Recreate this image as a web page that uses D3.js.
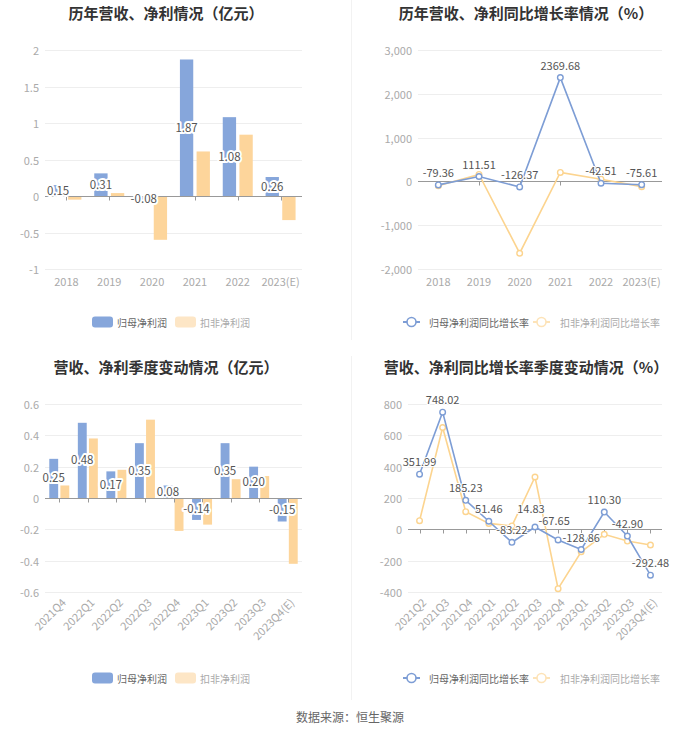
<!DOCTYPE html>
<html><head><meta charset="utf-8">
<script src="https://cdn.jsdelivr.net/npm/d3@7/dist/d3.min.js"></script>
<style>
body{margin:0;background:#fff;}
svg{display:block;font-family:"Noto Sans CJK SC","Noto Sans",sans-serif;}
</style></head><body>
<svg id="c" width="700" height="733"></svg>
<script>
// ---------- data ----------
const years = ["2018","2019","2020","2021","2022","2023(E)"];
const yearProfit = [0.15, 0.31, -0.08, 1.87, 1.08, 0.26];
const yearDeducted = [-0.05, 0.04, -0.60, 0.61, 0.84, -0.33];
const yearProfitGrowth = [-79.36, 111.51, -126.37, 2369.68, -42.51, -75.61];
const yearDeductedGrowth = [-100, 160, -1640, 205, 50, -120];

const quarters = ["2021Q4","2022Q1","2022Q2","2022Q3","2022Q4","2023Q1","2023Q2","2023Q3","2023Q4(E)"];
const qProfit = [0.25, 0.48, 0.17, 0.35, 0.08, -0.14, 0.35, 0.20, -0.15];
const qDeducted = [0.08, 0.38, 0.18, 0.50, -0.21, -0.17, 0.12, 0.14, -0.42];

const gQuarters = ["2021Q2","2021Q3","2021Q4","2022Q1","2022Q2","2022Q3","2022Q4","2023Q1","2023Q2","2023Q3","2023Q4(E)"];
const qProfitGrowth = [351.99, 748.02, 185.23, 51.46, -83.22, 14.83, -67.65, -128.86, 110.30, -42.90, -292.48];
const qDeductedGrowth = [55, 650, 113, 38, 22, 334, -379, -143, -32, -75, -100];

const ticksTL = [-1, -0.5, 0, 0.5, 1, 1.5, 2];
const ticksTR = [-2000, -1000, 0, 1000, 2000, 3000];
const ticksBL = [-0.6, -0.4, -0.2, 0, 0.2, 0.4, 0.6];
const ticksBR = [-400, -200, 0, 200, 400, 600, 800];

const seriesBar = ["归母净利润","扣非净利润"];
const seriesLine = ["归母净利润同比增长率","扣非净利润同比增长率"];

// ---------- style ----------
const BLUE = "#86a6db", YEL = "#fdd59b";
const LBLUE = "#7d9dd5", LYEL = "#fcd48f";
const loc = d3.formatLocale({decimal:".", thousands:",", grouping:[3], currency:["",""], minus:"-"});
const f2 = loc.format(".2f"), fPlain = loc.format(""), fComma = loc.format(",");
const svg = d3.select("#c");

// dividers
svg.append("line").attr("x1",351.5).attr("x2",351.5).attr("y1",0).attr("y2",340).attr("stroke","#f2f2f2");
svg.append("line").attr("x1",351.5).attr("x2",351.5).attr("y1",356).attr("y2",700).attr("stroke","#f2f2f2");

function title(txt, cx, cy){
  svg.append("text").attr("x",cx).attr("y",cy).attr("text-anchor","middle")
    .attr("dominant-baseline","central").attr("font-size",15).attr("font-weight","bold")
    .attr("fill","#333").text(txt);
}
title("历年营收、净利情况（亿元）",166,12);
title("历年营收、净利同比增长率情况（%）",526,12);
title("营收、净利季度变动情况（亿元）",166,366);
title("营收、净利同比增长率季度变动情况（%）",526,366);

function yAxis(g, y, x0, x1, ticks, fmt){
  ticks.forEach(t=>{
    g.append("line").attr("x1",x0).attr("x2",x1).attr("y1",Math.round(y(t))+0.5).attr("y2",Math.round(y(t))+0.5)
      .attr("stroke", "#eeeeee");
    g.append("text").attr("x",x0-6).attr("y",y(t)).attr("text-anchor","end")
      .attr("dominant-baseline","central").attr("font-size",11).attr("fill","#aaa").text(fmt(t));
  });
}
function zeroAxis(g, y, x0, x1, centers){
  const yy = Math.round(y(0))+0.5;
  g.append("line").attr("x1",x0).attr("x2",x1).attr("y1",yy).attr("y2",yy).attr("stroke","#999");
  centers.forEach(c=>g.append("line").attr("x1",Math.round(c)+0.5).attr("x2",Math.round(c)+0.5)
     .attr("y1",yy).attr("y2",yy+4).attr("stroke","#999"));
}
function xLabels(g, cats, xc, ybase, rotate){
  cats.forEach(c=>{
    if(!rotate){
      g.append("text").attr("x",xc(c)).attr("y",ybase).attr("text-anchor","middle")
        .attr("dominant-baseline","central").attr("font-size",11).attr("fill","#aaa").text(c);
    } else {
      g.append("text").attr("transform",`translate(${xc(c)+4},${ybase}) rotate(-45)`)
        .attr("text-anchor","end").attr("dominant-baseline","central")
        .attr("font-size",11).attr("fill","#aaa").text(c);
    }
  });
}
function barLegend(ly){
  const g = svg.append("g");
  g.append("rect").attr("x",92).attr("y",ly-5.5).attr("width",21).attr("height",11).attr("rx",3).attr("fill",BLUE);
  g.append("text").attr("x",117).attr("y",ly).attr("dominant-baseline","central").attr("font-size",10).attr("fill","#666").text(seriesBar[0]);
  g.append("rect").attr("x",175).attr("y",ly-5.5).attr("width",21).attr("height",11).attr("rx",3).attr("fill","#fde6c6");
  g.append("text").attr("x",200).attr("y",ly).attr("dominant-baseline","central").attr("font-size",10).attr("fill","#aaa").text(seriesBar[1]);
}
function lineLegend(ly){
  const g = svg.append("g");
  const items=[{x:403,c:LBLUE,tx:429,tc:"#666"},{x:533,c:"#fde3b8",tx:560,tc:"#aaa"}];
  items.forEach((it,i)=>{
    g.append("line").attr("x1",it.x).attr("x2",it.x+17).attr("y1",ly).attr("y2",ly).attr("stroke",it.c).attr("stroke-width",2);
    g.append("circle").attr("cx",it.x+8.5).attr("cy",ly).attr("r",4.5).attr("fill","#fff").attr("stroke",it.c).attr("stroke-width",1.6);
    g.append("text").attr("x",it.tx).attr("y",ly).attr("dominant-baseline","central").attr("font-size",10).attr("fill",it.tc).text(seriesLine[i]);
  });
}

function barChart(cats, a, b, ticks, x0, x1, yTop, yBot, labelY, rotate, legendY){
  const g = svg.append("g");
  const x = d3.scaleBand().domain(cats).range([x0,x1]);
  const y = d3.scaleLinear().domain([ticks[0], ticks[ticks.length-1]]).range([yBot,yTop]);
  const bw = x.bandwidth();
  const x1s = d3.scaleBand().domain([0,1]).range([bw*0.15, bw*0.85]).paddingInner(0.2);
  yAxis(g, y, x0, x1, ticks, fPlain);
  const data = cats.map((c,i)=>({c, v:[a[i], b[i]]}));
  [0,1].forEach(s=>{
    g.selectAll(null).data(data).enter().append("rect")
      .attr("x",d=>x(d.c)+x1s(s)).attr("width",x1s.bandwidth())
      .attr("y",d=>y(Math.max(0,d.v[s]))).attr("height",d=>Math.abs(y(d.v[s])-y(0)))
      .attr("fill", s===0?BLUE:YEL);
  });
  zeroAxis(g, y, x0, x1, cats.map(c=>x(c)+bw/2));
  xLabels(g, cats, c=>x(c)+bw/2, labelY, rotate);
  // labels
  g.selectAll(null).data(data).enter().append("text")
    .attr("x",d=>x(d.c)+x1s(0)+x1s.bandwidth()/2)
    .attr("y",d=>(y(d.v[0])+y(0))/2 - 1)
    .attr("text-anchor","middle").attr("dominant-baseline","central")
    .attr("font-size",11.5).attr("fill","#555")
    .attr("stroke","#fff").attr("stroke-width",4).attr("stroke-linejoin","round").attr("paint-order","stroke")
    .text(d=>f2(d.v[0]));
  barLegend(legendY);
}

function lineChart(cats, a, b, ticks, x0, x1, yTop, yBot, labelY, rotate, legendY, fmt){
  const g = svg.append("g");
  const x = d3.scalePoint().domain(cats).range([x0,x1]).padding(0.5);
  const y = d3.scaleLinear().domain([ticks[0], ticks[ticks.length-1]]).range([yBot,yTop]);
  yAxis(g, y, x0, x1, ticks, fmt);
  zeroAxis(g, y, x0, x1, cats.map(c=>x(c)));
  xLabels(g, cats, c=>x(c), labelY, rotate);
  const line = d3.line().x(d=>x(d.c)).y(d=>y(d.v));
  [[b,LYEL],[a,LBLUE]].forEach(([arr,col])=>{
    const d = cats.map((c,i)=>({c,v:arr[i]}));
    g.append("path").datum(d).attr("d",line).attr("fill","none").attr("stroke",col).attr("stroke-width",1.6);
    g.selectAll(null).data(d).enter().append("circle").attr("cx",p=>x(p.c)).attr("cy",p=>y(p.v))
      .attr("r",2.8).attr("fill","#fff").attr("stroke",col).attr("stroke-width",1.4);
  });
  const d = cats.map((c,i)=>({c,v:a[i]}));
  const labels = g.selectAll(null).data(d).enter().append("text")
    .attr("x",p=>x(p.c)).attr("y",p=>y(p.v)-8)
    .attr("text-anchor","middle").attr("font-size",11).attr("fill","#555")
    .attr("stroke","#fff").attr("stroke-width",2).attr("paint-order","stroke")
    .text(p=>f2(p.v));
  // simple collision nudge: move an earlier label up/left if it overlaps the next one
  const nodes = labels.nodes();
  for(let i=nodes.length-2;i>=0;i--){
    const A = nodes[i].getBBox(), B = nodes[i+1].getBBox();
    const ox = Math.min(A.x+A.width, B.x+B.width) - Math.max(A.x, B.x);
    const oy = Math.min(A.y+A.height, B.y+B.height) - Math.max(A.y, B.y);
    if(ox>0 && oy>0){
      const n = d3.select(nodes[i]);
      n.attr("x", +n.attr("x") - 4).attr("y", +n.attr("y") - Math.min(oy, 6) - 0.5);
    }
  }
  lineLegend(legendY);
}

barChart(years, yearProfit, yearDeducted, ticksTL, 45, 302, 50, 269, 281, false, 322);
lineChart(years, yearProfitGrowth, yearDeductedGrowth, ticksTR, 418, 662, 50, 269, 281, false, 322, fComma);
barChart(quarters, qProfit, qDeducted, ticksBL, 45, 302, 404, 592, 600, true, 678);
lineChart(gQuarters, qProfitGrowth, qDeductedGrowth, ticksBR, 408, 662, 404, 592, 600, true, 678, fPlain);

svg.append("text").attr("x",350).attr("y",716).attr("text-anchor","middle").attr("dominant-baseline","central")
  .attr("font-size",12).attr("fill","#666").text("数据来源：恒生聚源");
</script>
</body></html>
